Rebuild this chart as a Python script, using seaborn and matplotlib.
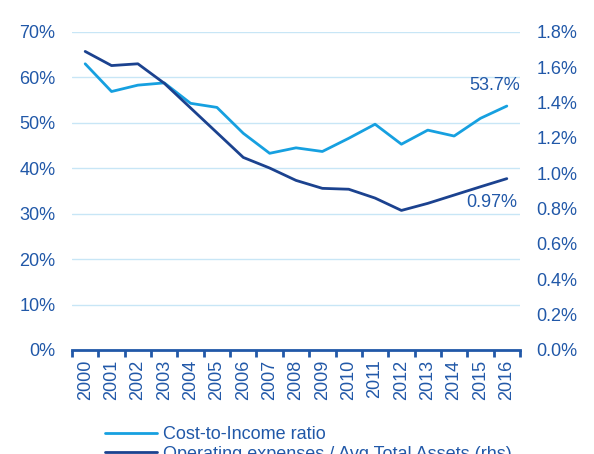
import matplotlib
matplotlib.use("Agg")
import matplotlib.pyplot as plt
import seaborn as sns
import pandas as pd
import numpy as np

years = [str(y) for y in range(2000, 2017)]
cost_to_income = [63.0, 56.9, 58.3, 58.8, 54.3, 53.4, 47.7, 43.3, 44.5, 43.7,
                  46.6, 49.7, 45.3, 48.4, 47.1, 51.0, 53.7]
opex_to_assets = [1.69, 1.61, 1.62, 1.51, 1.37, 1.23, 1.09, 1.03, 0.96, 0.915,
                  0.91, 0.86, 0.79, 0.83, 0.877, 0.924, 0.97]
left_ticks = [0, 10, 20, 30, 40, 50, 60, 70]
right_ticks = [0.0, 0.2, 0.4, 0.6, 0.8, 1.0, 1.2, 1.4, 1.6, 1.8]
label_cti = "Cost-to-Income ratio"
label_opex = "Operating expenses / Avg Total Assets (rhs)"

LIGHT = "#16A0E0"
DARK = "#1B428F"
TXT = "#2158A8"
GRID = "#C8E6F6"

sns.set_style("white")
plt.rcParams["font.family"] = ["Liberation Sans", "DejaVu Sans"]

df = pd.DataFrame({"year": years, "cti": cost_to_income, "opex": opex_to_assets})

fig = plt.figure(figsize=(5.94, 4.54), dpi=100)
ax = fig.add_axes([72/594, 1-350/454, 448/594, 318/454])
ax2 = ax.twinx()

sns.lineplot(data=df, x="year", y="cti", ax=ax, color=LIGHT, lw=2, sort=False, label=label_cti, legend=False)
sns.lineplot(data=df, x="year", y="opex", ax=ax2, color=DARK, lw=2, sort=False, label=label_opex, legend=False)

ax.set_xlim(-0.5, len(years) - 0.5)
ax.set_ylim(0, 70)
ax2.set_ylim(0, 1.8)
ax.set_yticks(left_ticks)
ax.set_yticklabels([f"{v}%" for v in left_ticks])
ax2.set_yticks(right_ticks)
ax2.set_yticklabels([f"{v:.1f}%" for v in right_ticks])

ax.set_xticks(range(len(years)))
ax.set_xticklabels(years, rotation=90)
ax.set_xticks(np.arange(-0.5, len(years)), minor=True)
ax.tick_params(axis="x", which="major", bottom=True, length=0, pad=7, labelsize=13, labelcolor=TXT)
ax.tick_params(axis="x", which="minor", bottom=True, length=5, width=2, color=TXT, direction="out")
ax.tick_params(axis="y", length=0, pad=12, labelsize=13, labelcolor=TXT)
ax2.tick_params(axis="y", length=0, pad=12, labelsize=13, labelcolor=TXT)

ax.set_xlabel("")
ax.set_ylabel("")
ax2.set_ylabel("")

ax.grid(axis="y", color=GRID, lw=1)
ax.set_axisbelow(True)
for s in ["top", "left", "right"]:
    ax.spines[s].set_visible(False)
    ax2.spines[s].set_visible(False)
ax2.spines["bottom"].set_visible(False)
ax.spines["bottom"].set_color(TXT)
ax.spines["bottom"].set_linewidth(2)

ax.annotate(f"{cost_to_income[-1]:.1f}%", xy=(len(years)-1, cost_to_income[-1]),
            xytext=(9.5, 15), textcoords="offset points", ha="right", va="center",
            fontsize=13, color=TXT)
ax2.annotate(f"{opex_to_assets[-1]:.2f}%", xy=(len(years)-1, opex_to_assets[-1]),
             xytext=(7.5, -17), textcoords="offset points", ha="right", va="center",
             fontsize=13, color=TXT)

h1, l1 = ax.get_legend_handles_labels()
h2, l2 = ax2.get_legend_handles_labels()
leg = fig.legend(h1 + h2, l1 + l2, loc="upper left", bbox_to_anchor=(105/594, 1-426/454),
                 frameon=False, fontsize=13, handlelength=2.9, handletextpad=0.3,
                 labelspacing=0.15, borderpad=0, borderaxespad=0)
for t in leg.get_texts():
    t.set_color(TXT)

fig.savefig("out.png", dpi=100)
